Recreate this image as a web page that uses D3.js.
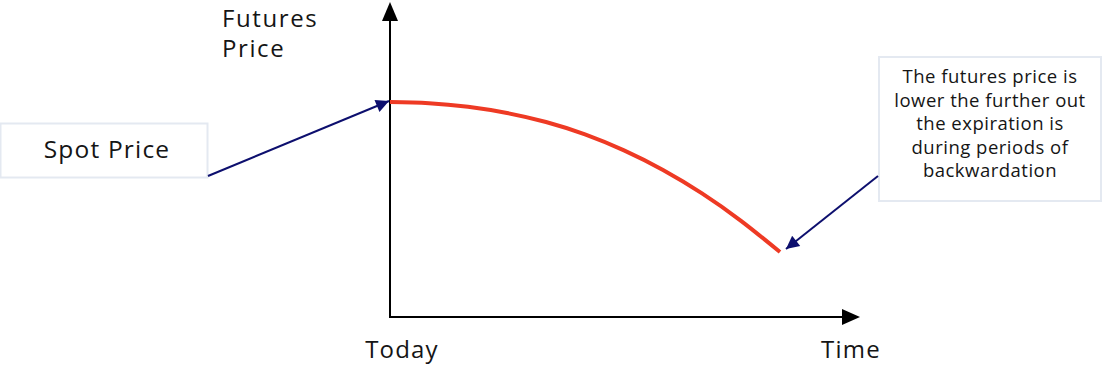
<!DOCTYPE html>
<html><head><meta charset="utf-8">
<script src="https://cdn.jsdelivr.net/npm/d3@7"></script>
<style>
html,body{margin:0;padding:0;background:#fff;}
svg{display:block;}
text{font-family:"Open Sans",sans-serif;fill:#151515;}
</style></head>
<body>
<svg id="c" width="1102" height="365"></svg>
<script>
// Data
const timePoints = [0,1,2,3,4,5,6,7,8,9,10];
const futuresPrice = [68.91,68.53,67.37,65.38,62.50,58.53,53.40,47.12,39.62,30.83,20.83];
const xLabels = ["Today","Time"];
const yLabel = ["Futures","Price"];
const spotLabel = "Spot Price";
const noteLines = ["The futures price is","lower the further out","the expiration is","during periods of","backwardation"];

const svg = d3.select("#c");
const x = d3.scaleLinear().domain([0,12]).range([390,858]);
const y = d3.scaleLinear().domain([0,100]).range([317,5]);

const navy = "#0d0f6e";
const defs = svg.append("defs");
defs.append("marker").attr("id","ah").attr("viewBox","0 0 10 10").attr("refX",10).attr("refY",5)
  .attr("markerWidth",16).attr("markerHeight",13).attr("markerUnits","userSpaceOnUse")
  .attr("orient","auto").append("path").attr("d","M0,0L10,5L0,10Z").attr("fill",navy);

// axes
svg.append("line").attr("x1",x(0)).attr("x2",x(0)).attr("y1",y(0)+1).attr("y2",y(100)+12)
  .attr("stroke","#000").attr("stroke-width",2);
svg.append("path").attr("d",`M${x(0)-8},${y(100)+16}L${x(0)},${y(100)-3}L${x(0)+8},${y(100)+16}Z`).attr("fill","#000");
svg.append("line").attr("x1",x(0)-1).attr("x2",x(12)-10).attr("y1",y(0)).attr("y2",y(0))
  .attr("stroke","#000").attr("stroke-width",2);
svg.append("path").attr("d",`M${x(12)-16},${y(0)-8}L${x(12)+2},${y(0)}L${x(12)-16},${y(0)+8}Z`).attr("fill","#000");

// curve
const line = d3.line().x((d,i)=>x(timePoints[i])).y(d=>y(d)).curve(d3.curveNatural);
svg.append("path").datum(futuresPrice).attr("d",line).attr("fill","none")
  .attr("stroke","#ee3a24").attr("stroke-width",4);

// axis labels
const big = 24, ls = 1.2;
svg.append("text").attr("x",402).attr("y",358).attr("text-anchor","middle").attr("font-size",big).attr("letter-spacing",ls).text(xLabels[0]);
svg.append("text").attr("x",851).attr("y",358).attr("text-anchor","middle").attr("font-size",big).attr("letter-spacing",ls).text(xLabels[1]);
yLabel.forEach((t,i)=>svg.append("text").attr("x",222).attr("y",27+i*30).attr("font-size",big).attr("letter-spacing",1.6).text(t));

// spot box
svg.append("rect").attr("x",0.5).attr("y",123.5).attr("width",207).attr("height",54)
  .attr("fill","#fff").attr("stroke","#e4e9f1").attr("stroke-width",2);
svg.append("text").attr("x",107).attr("y",158).attr("text-anchor","middle").attr("font-size",24.5).attr("letter-spacing",1.2).text(spotLabel);
svg.append("line").attr("x1",208).attr("y1",176).attr("x2",x(0)-1).attr("y2",y(futuresPrice[0])-1)
  .attr("stroke",navy).attr("stroke-width",2).attr("marker-end","url(#ah)");

// note box
svg.append("rect").attr("x",879).attr("y",57).attr("width",222).attr("height",144)
  .attr("fill","#fff").attr("stroke","#e4e9f1").attr("stroke-width",2);
noteLines.forEach((t,i)=>svg.append("text").attr("x",990).attr("y",83+i*23.5)
  .attr("text-anchor","middle").attr("font-size",18.5).attr("letter-spacing",0.5).text(t));
svg.append("line").attr("x1",878).attr("y1",176).attr("x2",x(10)+6).attr("y2",y(futuresPrice[10])-3)
  .attr("stroke",navy).attr("stroke-width",2).attr("marker-end","url(#ah)");
</script>
</body></html>
